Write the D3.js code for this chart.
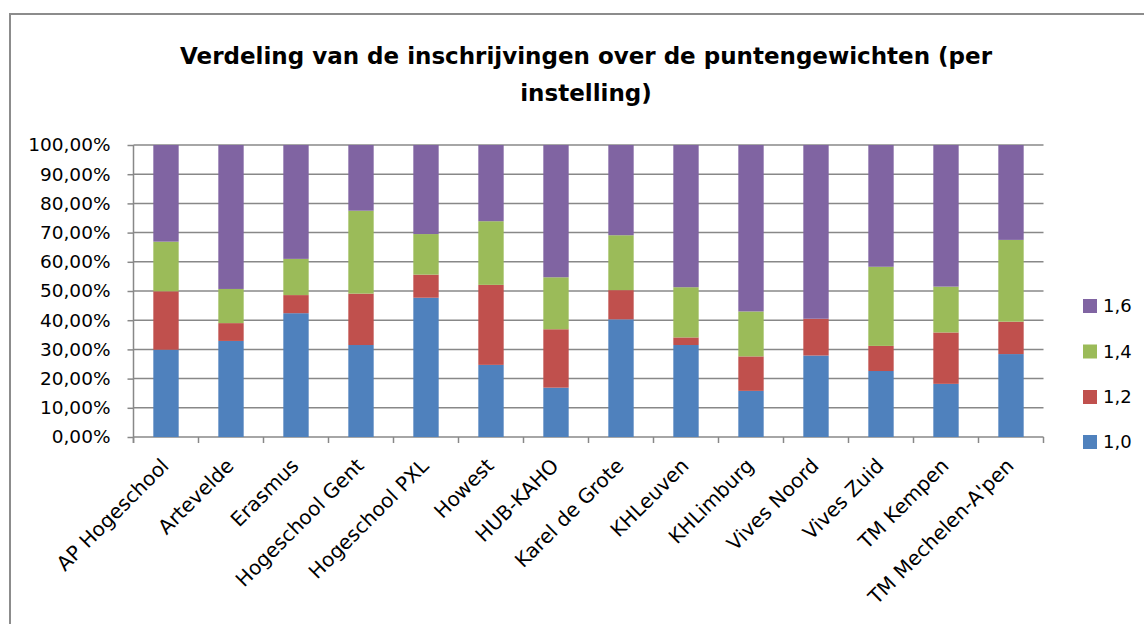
<!DOCTYPE html>
<html>
<head>
<meta charset="utf-8">
<script src="https://cdn.jsdelivr.net/npm/d3@7/dist/d3.min.js"></script>
<style>
  body { margin: 0; background: #fff; }
  svg { display: block; }
  text { font-family: "DejaVu Sans", sans-serif; fill: #000; }
</style>
</head>
<body>
<div id="chart"></div>
<script>
const categories = ['AP Hogeschool', 'Artevelde', 'Erasmus', 'Hogeschool Gent', 'Hogeschool PXL',
  'Howest', 'HUB-KAHO', 'Karel de Grote', 'KHLeuven', 'KHLimburg', 'Vives Noord',
  'Vives Zuid', 'TM Kempen', 'TM Mechelen-A\'pen'];

// aandeel per puntengewicht, in %
const w10 = [29.9, 32.9, 42.4, 31.5, 47.7, 24.7, 16.9, 40.3, 31.5, 15.8, 27.9, 22.6, 18.2, 28.4];
const w12 = [20.0, 6.1, 6.2, 17.6, 7.9, 27.4, 20.0, 10.0, 2.6, 11.8, 12.6, 8.6, 17.6, 11.1];
const w14 = [17.0, 11.7, 12.4, 28.4, 13.9, 21.8, 17.8, 18.8, 17.2, 15.4, 0.0, 27.1, 15.7, 28.0];
const w16 = [33.1, 49.3, 39.0, 22.5, 30.5, 26.1, 45.3, 30.9, 48.7, 57.0, 59.5, 41.7, 48.5, 32.5];

const seriesNames = ['1,0', '1,2', '1,4', '1,6'];
const yTicks = [0, 0.1, 0.2, 0.3, 0.4, 0.5, 0.6, 0.7, 0.8, 0.9, 1];
const colors = ['#4F81BD', '#C0504D', '#9BBB59', '#8064A2'];

const title = ['Verdeling van de inschrijvingen over de puntengewichten (per', 'instelling)'];

const W = 1144, H = 624;
const plot = { left: 133.5, right: 1043.5, top: 145, bottom: 437 };

const rows = categories.map((c, i) => ({
  cat: c, '1,0': w10[i], '1,2': w12[i], '1,4': w14[i], '1,6': w16[i]
}));

const stacked = d3.stack()
  .keys(seriesNames)
  .offset(d3.stackOffsetExpand)(rows);

const svg = d3.select('#chart').append('svg')
  .attr('width', W)
  .attr('height', H);

// kader
svg.append('rect')
  .attr('x', 10).attr('y', 14)
  .attr('width', W + 50).attr('height', H + 50)
  .attr('fill', 'none')
  .attr('stroke', '#8c8c8c')
  .attr('stroke-width', 2);

svg.append('g')
  .selectAll('text')
  .data(title)
  .join('text')
  .attr('x', 586)
  .attr('y', (d, i) => 64 + i * 37)
  .attr('text-anchor', 'middle')
  .style('font-size', '23px')
  .style('font-weight', 'bold')
  .text(d => d);

const xCat = d3.scaleBand()
  .domain(categories)
  .range([plot.left, plot.right])
  .padding(0);

const xBar = d3.scaleBand()
  .domain(categories)
  .range([plot.left, plot.right])
  .paddingInner(0.61)
  .paddingOuter(0.305);

const y = d3.scaleLinear()
  .domain([0, 1])
  .range([plot.bottom, plot.top]);

// rasterlijnen + y-as
const yAxis = svg.append('g')
  .attr('class', 'y axis')
  .attr('transform', `translate(${plot.left}, 0)`)
  .call(d3.axisLeft(y)
    .tickValues(yTicks)
    .tickSize(6)
    .tickFormat(d => d3.format('.2f')(d * 100).replace('.', ',') + '%'));
yAxis.select('.domain').remove();
yAxis.selectAll('line').attr('stroke', '#888').attr('stroke-width', 1.5);
yAxis.selectAll('text')
  .attr('x', -23)
  .style('font-size', '18.5px')
  .style('font-family', '"DejaVu Sans", sans-serif');

svg.append('g')
  .selectAll('line')
  .data(yTicks)
  .join('line')
  .attr('x1', plot.left)
  .attr('x2', plot.right)
  .attr('y1', d => y(d))
  .attr('y2', d => y(d))
  .attr('stroke', '#888')
  .attr('stroke-width', 1.5);

svg.append('line')
  .attr('x1', plot.left).attr('x2', plot.left)
  .attr('y1', plot.top).attr('y2', plot.bottom + 6)
  .attr('stroke', '#888')
  .attr('stroke-width', 1.5);

// x-as ticks op de grenzen
const bounds = categories.map(c => xCat(c)).concat([plot.right]);
svg.append('g')
  .selectAll('line')
  .data(bounds)
  .join('line')
  .attr('x1', d => d).attr('x2', d => d)
  .attr('y1', plot.bottom).attr('y2', plot.bottom + 6)
  .attr('stroke', '#888')
  .attr('stroke-width', 1.5);

// staven
svg.append('g')
  .selectAll('g')
  .data(stacked)
  .join('g')
  .attr('fill', (d, i) => colors[i])
  .selectAll('rect')
  .data(d => d)
  .join('rect')
  .attr('x', d => xBar(d.data.cat))
  .attr('width', xBar.bandwidth())
  .attr('y', d => y(d[1]))
  .attr('height', d => y(d[0]) - y(d[1]));

// categorie labels
svg.append('g')
  .selectAll('text')
  .data(categories)
  .join('text')
  .attr('transform', d => `translate(${xCat(d) + xCat.step() / 2 + 4}, ${plot.bottom + 30}) rotate(-45)`)
  .attr('text-anchor', 'end')
  .style('font-size', '20px')
  .text(d => d);

// legenda
const legendY = [442, 397, 351.5, 306];
const legend = svg.append('g')
  .selectAll('g')
  .data(seriesNames)
  .join('g')
  .attr('transform', (d, i) => `translate(1083, ${legendY[i]})`);

legend.append('rect')
  .attr('x', 0).attr('y', -7)
  .attr('width', 14).attr('height', 14)
  .attr('fill', (d, i) => colors[i]);

legend.append('text')
  .attr('x', 20)
  .attr('dy', '0.36em')
  .style('font-size', '18px')
  .text(d => d);
</script>
</body>
</html>
